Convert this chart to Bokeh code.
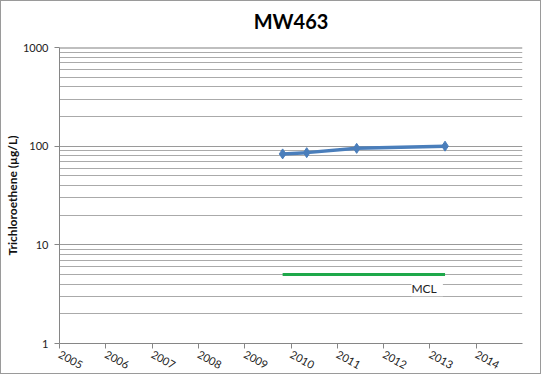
import pandas as pd
from bokeh.plotting import figure
from bokeh.models import (FixedTicker, PrintfTickFormatter, DatetimeTickFormatter,
                          Label, ColumnDataSource)
from bokeh.embed import file_html
from bokeh.resources import INLINE

# data
sample_dates = ["2009-10-27", "2010-05-05", "2011-06-03", "2013-04-30"]
tce_values = [83.5, 86, 95, 100]
mcl_value = 5
year_ticks = list(range(2005, 2015))
y_ticks = [1, 10, 100, 1000]
title_text = "MW463"
y_label = "Trichloroethene (µg/L)"

dates = pd.to_datetime(sample_dates)
src = ColumnDataSource(dict(x=dates, y=tce_values))

x0 = pd.Timestamp("2005-01-01")
x1 = pd.Timestamp("2015-01-01")

p = figure(width=541, height=374, x_axis_type="datetime", y_axis_type="log",
           x_range=(x0, x1), y_range=(1, 1000),
           output_backend="svg", toolbar_location=None,
           min_border_left=58, min_border_right=20, min_border_top=44, min_border_bottom=32)
p.title.text = title_text
p.title.align = "center"
p.title.text_font = "Lato"
p.title.text_font_size = "20px"
p.title.text_font_style = "bold"
p.title.text_color = "#000000"
p.title.padding = dict(left=0, right=0, top=0, bottom=10)
p.outline_line_color = None
p.background_fill_color = "white"
p.border_fill_color = "white"

# x axis
tick_dates = [pd.Timestamp(f"{y}-01-01") for y in year_ticks]
p.xaxis.ticker = FixedTicker(ticks=[t.value / 1e6 for t in tick_dates])
p.xaxis.formatter = DatetimeTickFormatter(years="%Y", months="%Y", days="%Y")
p.xaxis.axis_line_color = "#868686"
p.xaxis.major_tick_line_color = "#868686"
p.xaxis.major_tick_out = 5
p.xaxis.major_tick_in = 0
p.xaxis.minor_tick_line_color = None
p.xaxis.major_label_standoff = 5
p.xaxis.major_label_orientation = -0.5
p.xaxis.major_label_text_font = "Lato"
p.xaxis.major_label_text_font_size = "11px"
p.xaxis.major_label_text_color = "#222222"

minor = [m * d for d in (1, 10, 100) for m in range(2, 10)]
p.yaxis.ticker = FixedTicker(ticks=y_ticks, minor_ticks=minor)
p.yaxis.formatter = PrintfTickFormatter(format="%d")
p.yaxis.axis_line_color = "#868686"
p.yaxis.major_tick_line_color = "#868686"
p.yaxis.major_tick_out = 5
p.yaxis.major_tick_in = 0
p.yaxis.minor_tick_line_color = None
p.yaxis.major_label_standoff = 6
p.yaxis.major_label_text_font = "Lato"
p.yaxis.major_label_text_font_size = "11px"
p.yaxis.major_label_text_color = "#222222"
p.yaxis.axis_label = y_label
p.yaxis.axis_label_text_font = "Lato"
p.yaxis.axis_label_text_font_size = "12px"
p.yaxis.axis_label_text_font_style = "bold"
p.yaxis.axis_label_text_color = "#111111"
p.yaxis.axis_label_standoff = 0

p.xgrid.grid_line_color = None
p.ygrid.grid_line_color = "#9a9a9a"
p.ygrid.grid_line_width = 1
p.ygrid.minor_grid_line_color = "#aaaaaa"
p.ygrid.minor_grid_line_width = 1

# top line at 1000 darker
p.line([x0, x1], [1000, 1000], line_color="#808080", line_width=2)

# MCL
p.line([dates[0], dates[-1]], [mcl_value, mcl_value], line_color="#1EA84A", line_width=3)
p.add_layout(Label(x=pd.Timestamp("2012-12-10"), y=3.58, text=" MCL ", text_align="center",
                   text_baseline="middle", text_font="Lato", text_font_size="12px",
                   text_color="#222222", background_fill_color="white",
                   x_units="data", y_units="data"))

# series
p.line("x", "y", source=src, line_color="#4A7EBB", line_width=3.5)
p.scatter("x", "y", source=src, marker="diamond", size=10, fill_color="#4A7EBB", line_color="#4A7EBB")

p.styles = {"border": "1px solid #9a9a9a"}

open("out.html", "w").write(file_html(p, INLINE))
